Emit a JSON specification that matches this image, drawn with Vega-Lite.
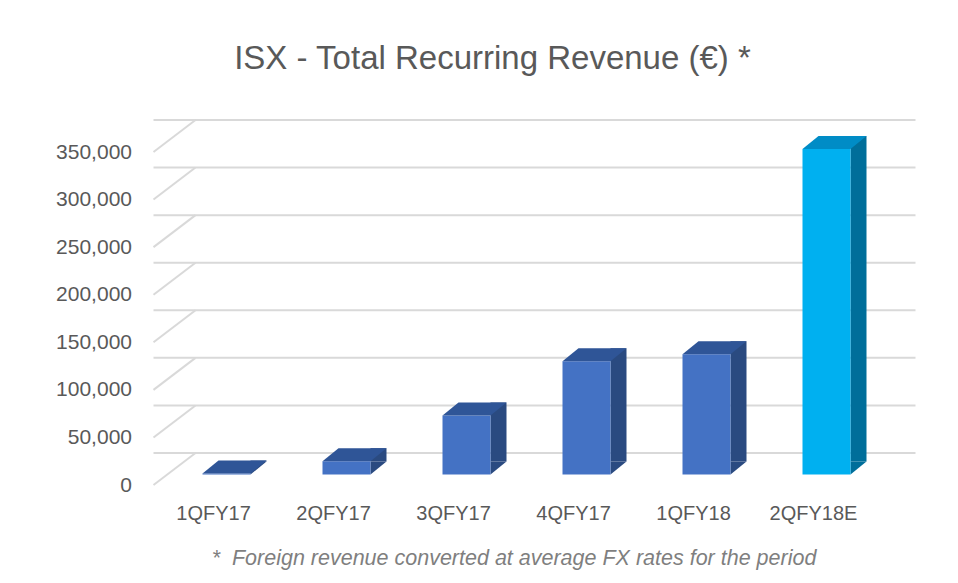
{
  "$schema": "https://vega.github.io/schema/vega-lite/v6.json",
  "width": 720,
  "height": 333,
  "autosize": {"type": "none"},
  "padding": {"left": 153.5, "top": 152, "right": 84.5, "bottom": 98},
  "background": "white",
  "config": {
    "view": {"stroke": null},
    "font": "Liberation Sans",
    "axisY": {
      "format": ",.0f",
      "labelFont": "Liberation Sans",
      "labelFontSize": 21,
      "labelColor": "#595959",
      "labelPadding": 22,
      "domain": false,
      "ticks": false,
      "grid": false,
      "title": null
    }
  },
  "title": {
    "text": "ISX - Total Recurring Revenue (€) *",
    "fontSize": 33,
    "fontWeight": "normal",
    "font": "Liberation Sans",
    "color": "#595959",
    "anchor": "middle",
    "dx": -21,
    "offset": 43
  },
  "datasets": {
    "revenue": [
      {"quarter": "1QFY17", "revenue": 1000, "kind": "Actual"},
      {"quarter": "2QFY17", "revenue": 14000, "kind": "Actual"},
      {"quarter": "3QFY17", "revenue": 62000, "kind": "Actual"},
      {"quarter": "4QFY17", "revenue": 119000, "kind": "Actual"},
      {"quarter": "1QFY18", "revenue": 126500, "kind": "Actual"},
      {"quarter": "2QFY18E", "revenue": 342000, "kind": "Estimate"}
    ],
    "ticks": [
      {"tick": 0}, {"tick": 50000}, {"tick": 100000}, {"tick": 150000},
      {"tick": 200000}, {"tick": 250000}, {"tick": 300000}, {"tick": 350000}
    ]
  },
  "encoding": {
    "x": {
      "field": "quarter",
      "type": "nominal",
      "sort": null,
      "scale": {"paddingInner": 0, "paddingOuter": 0, "domain": ["1QFY17", "2QFY17", "3QFY17", "4QFY17", "1QFY18", "2QFY18E"]},
      "axis": {
        "title": "*\u00a0\u00a0Foreign revenue converted at average FX rates for the period",
        "titleFont": "Liberation Sans",
        "titleFontStyle": "italic",
        "titleFontWeight": "normal",
        "titleFontSize": 21.5,
        "titleColor": "#7F7F7F",
        "titlePadding": 24,
        "labelAngle": 0,
        "labelFont": "Liberation Sans",
        "labelFontSize": 20,
        "labelColor": "#595959",
        "labelPadding": 18,
        "domain": false,
        "ticks": false,
        "grid": false
      }
    }
  },
  "layer": [
    {
      "data": {"name": "ticks"},
      "mark": {"type": "rule", "color": "#D9D9D9", "strokeWidth": 2, "xOffset": 42, "x2Offset": 42, "yOffset": -32, "y2Offset": -32},
      "encoding": {
        "x": null,
        "y": {
          "field": "tick",
          "type": "quantitative",
          "scale": {"domain": [0, 350000], "nice": false},
          "axis": {
            "values": [0, 50000, 100000, 150000, 200000, 250000, 300000, 350000],
            "format": ",.0f"
          }
        }
      }
    },
    {
      "data": {"name": "ticks"},
      "mark": {"type": "rule", "color": "#D9D9D9", "strokeWidth": 2, "x2Offset": -18, "y2Offset": -32},
      "encoding": {
        "x": {"datum": "1QFY17", "bandPosition": 0},
        "x2": {"datum": "1QFY17"},
        "y": {"field": "tick", "type": "quantitative"},
        "y2": {"field": "tick"}
      }
    },
    {
      "data": {"name": "revenue"},
      "mark": {"type": "bar", "size": 16, "xOffset": 45, "yOffset": -23.5, "y2Offset": -23.5},
      "encoding": {
        "y": {"field": "revenue", "type": "quantitative"},
        "y2": {"datum": 0},
        "color": {"condition": {"test": "datum.kind === 'Estimate'", "value": "#006E9A"}, "value": "#2A4A80"}
      }
    },
    {
      "data": {"name": "revenue"},
      "mark": {"type": "point", "shape": "M-0.25,0.203L-0.25,-0.203L0.25,-0.203Z", "size": 4096, "filled": true, "opacity": 1, "strokeWidth": 0, "xOffset": 45, "yOffset": -17},
      "encoding": {
        "y": {"datum": 0, "type": "quantitative"},
        "color": {"condition": {"test": "datum.kind === 'Estimate'", "value": "#006E9A"}, "value": "#2A4A80"}
      }
    },
    {
      "data": {"name": "revenue"},
      "mark": {"type": "bar", "size": 48, "xOffset": 13, "yOffset": -10.5, "y2Offset": -10.5},
      "encoding": {
        "y": {"field": "revenue", "type": "quantitative"},
        "y2": {"datum": 0},
        "color": {"condition": {"test": "datum.kind === 'Estimate'", "value": "#00B0F0"}, "value": "#4472C4"},
        "tooltip": [{"field": "quarter"}, {"field": "revenue", "format": ","}]
      }
    },
    {
      "data": {"name": "revenue"},
      "mark": {"type": "point", "shape": "M-1,0.203L0.5,0.203L1,-0.203L-0.5,-0.203Z", "size": 4096, "filled": true, "opacity": 1, "strokeWidth": 0, "xOffset": 21, "yOffset": -17},
      "encoding": {
        "y": {"field": "revenue", "type": "quantitative"},
        "color": {"condition": {"test": "datum.kind === 'Estimate'", "value": "#008CC6"}, "value": "#2F5597"}
      }
    }
  ]
}
